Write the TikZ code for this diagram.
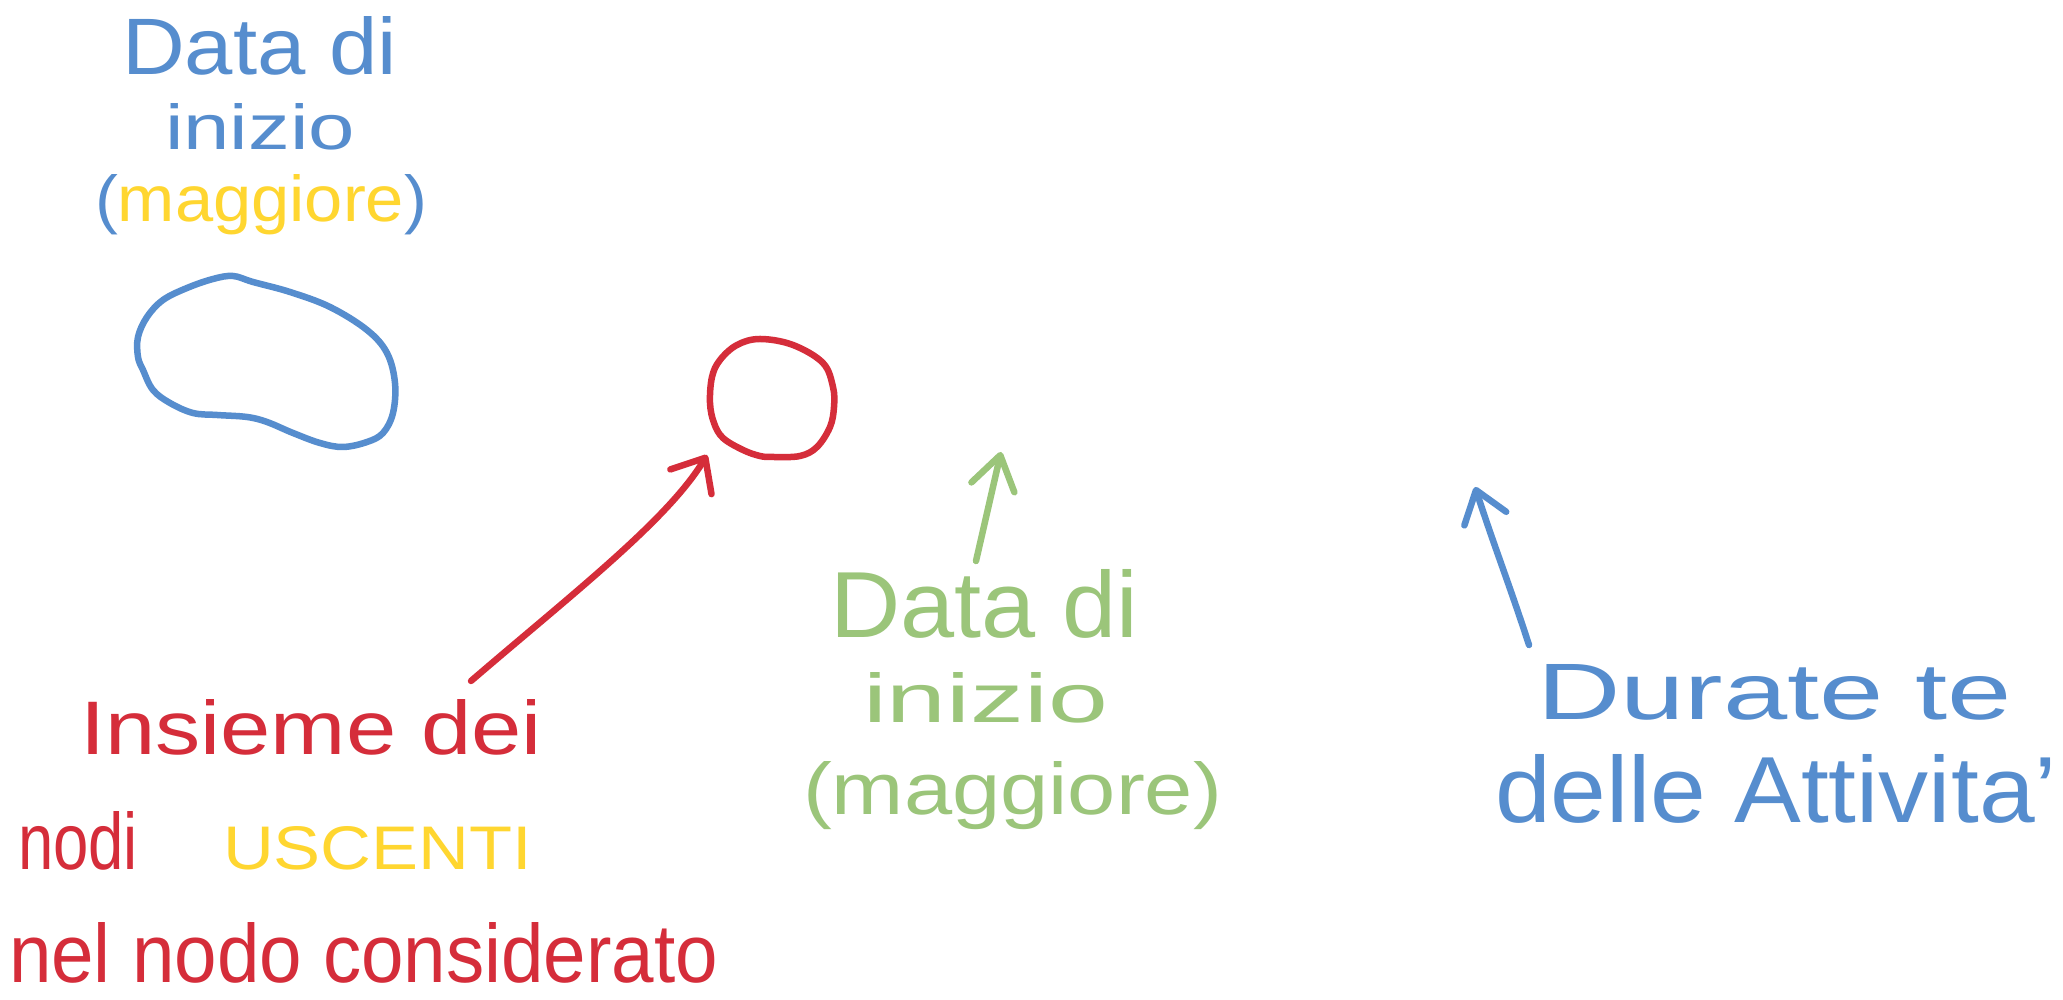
\documentclass[tikz,border=0pt]{standalone}
\usepackage{fontspec}
\setmainfont{Liberation Sans}
\usepackage{graphicx}
\usetikzlibrary{arrows.meta}
\definecolor{penblue}{RGB}{86,141,206}
\definecolor{penred}{RGB}{213,45,58}
\definecolor{penyellow}{RGB}{255,214,48}
\definecolor{pengreen}{RGB}{155,197,122}
\newcommand{\hwt}[3]{\resizebox{#1}{#2}{#3}}
\begin{document}
\begin{tikzpicture}[x=1pt,y=1pt,
  lbl/.style={inner sep=0pt, outer sep=0pt, anchor=base west},
  pen/.style={line width=6.5pt, line cap=round, line join=round},
  bluepen/.style={pen, draw=penblue},
  redpen/.style={pen, draw=penred},
  greenpen/.style={pen, draw=pengreen},
  barb/.style args={#1/#2}{-{Straight Barb[length=#1pt,width=#2pt,round]}}
]
\useasboundingbox[fill=white] (0,0) rectangle (2063,1000);

% ---------- top-left blue label and blob ----------
\node[lbl, text=penblue] (bdata) at (122,925) {\hwt{275pt}{58pt}{Data di}};
\node[lbl, text=penblue] (binizio) at (165,850) {\hwt{190pt}{46pt}{inizio}};
\node[lbl] (bmagg) at (95,778) {\hwt{332pt}{47pt}{\textcolor{penblue}{(}\textcolor{penyellow}{maggiore}\textcolor{penblue}{)}}};

\draw[bluepen] plot[smooth cycle, tension=0.6] coordinates {
 (233,724) (253,718) (290,708) (330,693) (367,670) (387,647) (395,617)
 (393,587) (383,567) (367,558) (343,553) (320,557) (293,567) (267,578)
 (247,583) (217,585) (193,587) (170,597) (153,610) (143,630) (138,643)
 (138,663) (147,683) (163,700) (187,712) (213,721)};
\coordinate (blob) at (266,638);

% ---------- red node (circle) ----------
\draw[redpen] plot[smooth cycle, tension=0.6] coordinates {
 (760,661) (793,655) (823,637) (833,613) (834,593) (830,573) (817,553)
 (800,544) (773,543) (760,544) (743,550) (723,562) (714,577) (710,597)
 (712,623) (720,640) (737,655)};
\coordinate (nodo) at (772,602);

% ---------- red label ----------
\node[lbl, text=penred] (insieme) at (80,245) {\hwt{462pt}{55pt}{Insieme dei}};
\node[lbl, text=penred] (nodi) at (18,130) {\hwt{120pt}{58pt}{nodi}};
\node[lbl, text=penyellow] (uscenti) at (223,130) {\hwt{309pt}{43pt}{USCENTI}};
\node[lbl, text=penred] (considerato) at (9,17) {\hwt{709pt}{60pt}{nel nodo considerato}};

\coordinate (redS) at (471,319);
\coordinate (redT) at (707,545);
\draw[redpen, barb=28/48] (redS) .. controls (571,405) and (668,480) .. (redT);

% ---------- green label ----------
\node[lbl, text=pengreen] (gdata) at (830,362) {\hwt{308pt}{68pt}{Data di}};
\node[lbl, text=pengreen] (ginizio) at (863,277) {\hwt{245pt}{50pt}{inizio}};
\node[lbl, text=pengreen] (gmagg) at (803,185) {\hwt{419pt}{53pt}{(maggiore)}};

\coordinate (greenS) at (976,439);
\coordinate (greenT) at (1001,548);
\draw[greenpen, barb=33/44] (greenS) -- (greenT);

% ---------- blue right label ----------
\node[lbl, text=penblue] (durate) at (1537,280) {\hwt{475pt}{55pt}{Durate te}};
\node[lbl, text=penblue] (attivita) at (1495,177) {\hwt{562pt}{68pt}{delle Attivita'}};

\coordinate (blueS) at (1529,355);
\coordinate (blueT) at (1475,513);
\draw[bluepen, barb=30/44] (blueS) to[out=108,in=-72] (blueT);
\end{tikzpicture}
\end{document}
